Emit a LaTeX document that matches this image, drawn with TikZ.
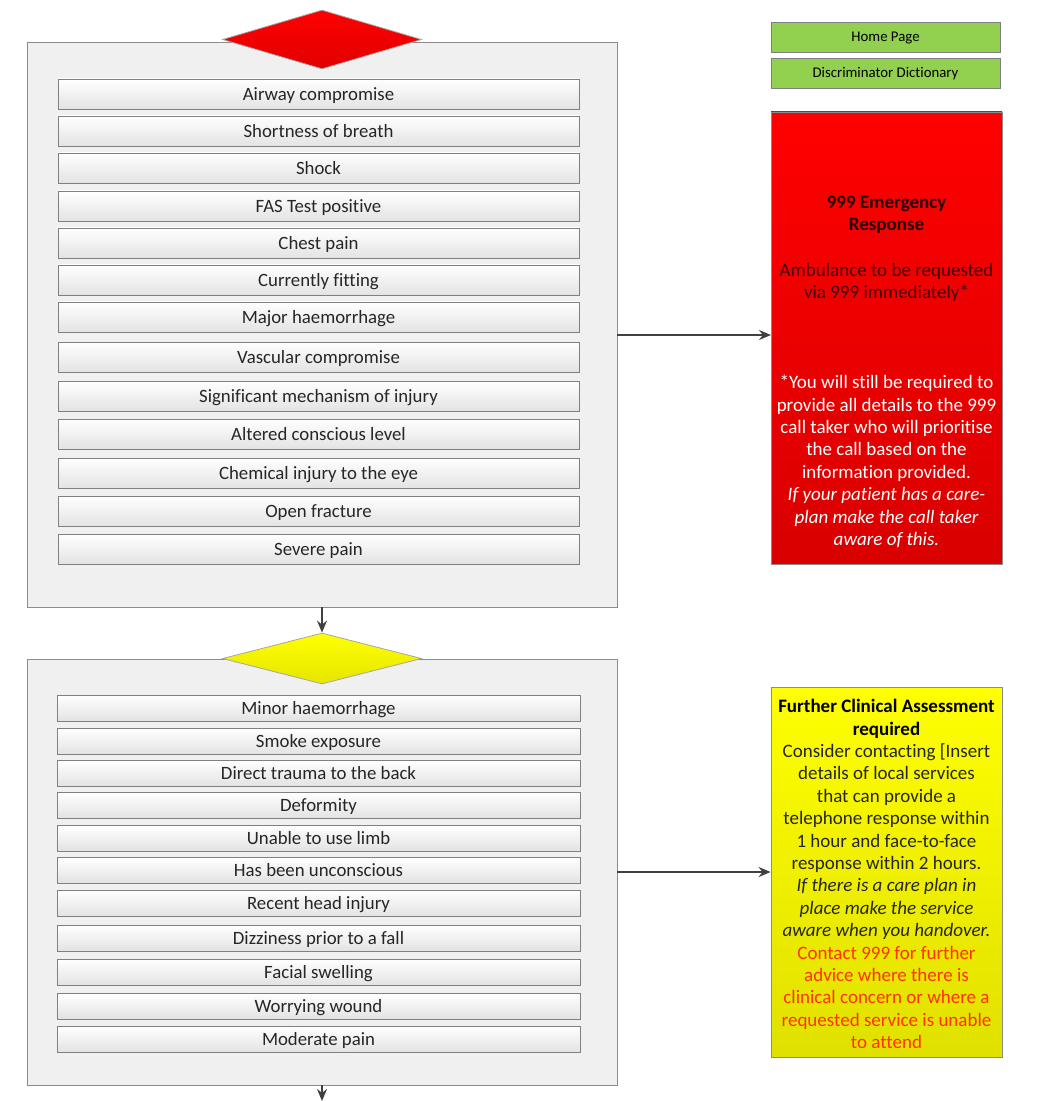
\documentclass[tikz,border=0pt]{standalone}
\usepackage{fontspec}
\setmainfont{Carlito}[Ligatures=NoCommon]
\usetikzlibrary{shapes.geometric,arrows.meta}
\tikzset{>={Stealth[length=6pt,width=5pt]}}
\definecolor{linkgreen}{HTML}{92D050}
\definecolor{alertred}{HTML}{FF3300}
\tikzset{
  panel/.style={draw=black!45, fill=gray!12, minimum width=295pt, inner sep=0pt},
  cue/.style={draw=black!50, top color=white, bottom color=gray!22, minimum width=260.5pt, minimum height=15pt, inner sep=0pt, text height=7.7pt, text depth=1pt, font=\fontsize{9.4}{10}\selectfont, text=black!85},
  flag/.style={diamond, draw=black!35, minimum width=99.5pt, inner sep=0pt},
  linkbox/.style={draw=black!50, fill=linkgreen, minimum width=114.5pt, minimum height=15pt, inner sep=0pt, text height=6pt, text depth=1pt, font=\fontsize{7.4}{8}\selectfont},
  outcome/.style={draw=black!45, minimum width=115.5pt, inner sep=0pt},
  say/.style={align=center, inner sep=0pt, font=\fontsize{9.5}{11.2}\selectfont},
  flow/.style={->, draw=black!75, thick}
}

\begin{document}
\begin{tikzpicture}[x=0.5pt,y=-0.5pt]
  \useasboundingbox (0,0) rectangle (1048,1101);

  % first panel
  \node[panel, minimum height=282.5pt] (upper) at (322,324.5) {};
  \node[flag, minimum height=29.5pt, top color=red, bottom color=red!88!black] (redflag) at (322,39.5) {};
  \foreach \y/\t [count=\i] in {94/Airway compromise, 131/Shortness of breath, 168/Shock, 206/FAS Test positive, 243/Chest pain, 280/Currently fitting, 317/Major haemorrhage, 357/Vascular compromise, 396/Significant mechanism of injury, 434/Altered conscious level, 473/Chemical injury to the eye, 511/Open fracture, 549/Severe pain}
    \node[cue] (top\i) at (318.5,\y) {\t};

  % second panel
  \node[panel, minimum height=213pt] (lower) at (322,872) {};
  \node[flag, minimum height=25.5pt, top color=yellow, bottom color=yellow!90!black] (amberflag) at (322,658.5) {};
  \foreach \y/\t [count=\i] in {708/Minor haemorrhage, 741/Smoke exposure, 773/Direct trauma to the back, 805/Deformity, 838/Unable to use limb, 870/Has been unconscious, 903/Recent head injury, 938/Dizziness prior to a fall, 972/Facial swelling, 1006/Worrying wound, 1039/Moderate pain}
    \node[cue, minimum width=261.5pt, minimum height=13pt] (low\i) at (318.5,\y) {\t};

  % links
  \node[linkbox] (home) at (885.5,37) {Home Page};
  \node[linkbox] (dict) at (885.5,73) {Discriminator Dictionary};

  % outcomes
  \node[outcome, minimum height=226pt, top color=red, bottom color=red!85!black] (redout) at (886.5,338) {};
  \node[say, text=black!85!red, font=\fontsize{9.5}{11.2}\selectfont\bfseries] (redhead) at (886.5,214.5) {999 Emergency\\Response};
  \node[say, text=black!75!red] (redcall) at (886.5,282.5) {Ambulance to be requested\\via 999 immediately*};
  \node[say, text=white] (rednote) at (886.5,461.5) {*You will still be required to\\provide all details to the 999\\call taker who will prioritise\\the call based on the\\information provided.\\\itshape If your patient has a care-\\\itshape plan make the call taker\\\itshape aware of this.};

  \node[outcome, minimum height=185pt, top color=yellow, bottom color=yellow!88!black] (amberout) at (886.5,872) {};
  \node[say, text=black!85] (ambernote) at (886.5,874) {\textbf{\textcolor{black}{Further Clinical Assessment}}\\\textbf{\textcolor{black}{required}}\\Consider contacting [Insert\\details of local services\\that can provide a\\telephone response within\\1 hour and face-to-face\\response within 2 hours.\\\itshape If there is a care plan in\\\itshape place make the service\\\itshape aware when you handover.\\\textcolor{alertred}{Contact 999 for further}\\\textcolor{alertred}{advice where there is}\\\textcolor{alertred}{clinical concern or where a}\\\textcolor{alertred}{requested service is unable}\\\textcolor{alertred}{to attend}};

  % connectors
  \coordinate (exit) at (322,1101);
  \coordinate (redin) at (771,335);
  \draw[flow] (upper.east |- redin) -- (redin);
  \draw[flow] (upper.south) -- (amberflag.north);
  \draw[flow] (lower.east) -- (amberout.west);
  \draw[flow] (lower.south) -- (exit);
\end{tikzpicture}
\end{document}
